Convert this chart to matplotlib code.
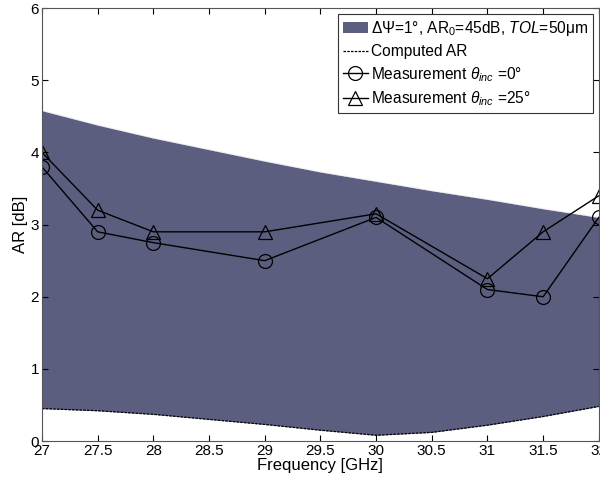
import numpy as np
import matplotlib
matplotlib.use("Agg")
import matplotlib.pyplot as plt

plt.rcParams['font.family'] = ['Liberation Sans', 'DejaVu Sans']
plt.rcParams['mathtext.fontset'] = 'custom'
plt.rcParams['mathtext.rm'] = 'Liberation Sans'
plt.rcParams['mathtext.it'] = 'Liberation Sans:italic'

freq = [27, 27.5, 28, 28.5, 29, 29.5, 30, 30.5, 31, 31.5, 32]
upper = [4.58, 4.38, 4.2, 4.04, 3.88, 3.73, 3.6, 3.47, 3.35, 3.22, 3.1]
computed = [0.45, 0.42, 0.37, 0.3, 0.23, 0.15, 0.08, 0.12, 0.22, 0.34, 0.48]

f_meas = [27, 27.5, 28, 29, 30, 31, 31.5, 32]
meas_0 = [3.8, 2.9, 2.75, 2.5, 3.1, 2.1, 2.0, 3.1]
meas_25 = [4.0, 3.2, 2.9, 2.9, 3.15, 2.25, 2.9, 3.4]

fig = plt.figure(figsize=(6, 4.82), dpi=100)
ax = fig.add_axes([0.07, 0.085, 0.928, 0.898])

ax.fill_between(freq, computed, upper, color='#5c5e80', linewidth=0,
                label=r'$\mathit{\Delta\Psi}$=1°, AR$_0$=45dB, $\mathit{TOL}$=50μm')
ax.plot(freq, upper, color='#e0e0e8', lw=0.8, ls=(0, (1, 1)))
ax.plot(freq, computed, 'k--', lw=0.9, dashes=(2, 1), label='Computed AR')
ax.plot(f_meas, meas_0, 'k-', marker='o', ms=10, mfc='none', mew=0.9, lw=1,
        label=r'Measurement $\theta_{inc}$ =0°')
ax.plot(f_meas, meas_25, 'k-', marker='^', ms=10, mfc='none', mew=0.9, lw=1,
        label=r'Measurement $\theta_{inc}$ =25°')

ax.set_xlim(27, 32)
ax.set_ylim(0, 6)
ax.set_xticks(np.arange(27, 32.01, 0.5))
ax.set_xticklabels(['27', '27.5', '28', '28.5', '29', '29.5', '30', '30.5', '31', '31.5', '32'])
ax.tick_params(direction='in', labelsize=11, length=4, top=True, right=True, pad=2)
ax.set_xlabel('Frequency [GHz]', fontsize=12, labelpad=0)
ax.set_ylabel('AR [dB]', fontsize=12, labelpad=2)
for s in ax.spines.values():
    s.set_color('#555555')

leg = ax.legend(loc='upper right', fontsize=11.2, frameon=True, fancybox=False,
                edgecolor='#333333', framealpha=1, handlelength=1.6,
                handletextpad=0.2, borderpad=0.3, labelspacing=0.38,
                borderaxespad=0.4)
leg.get_frame().set_linewidth(0.8)

fig.savefig('out.png', dpi=100)
